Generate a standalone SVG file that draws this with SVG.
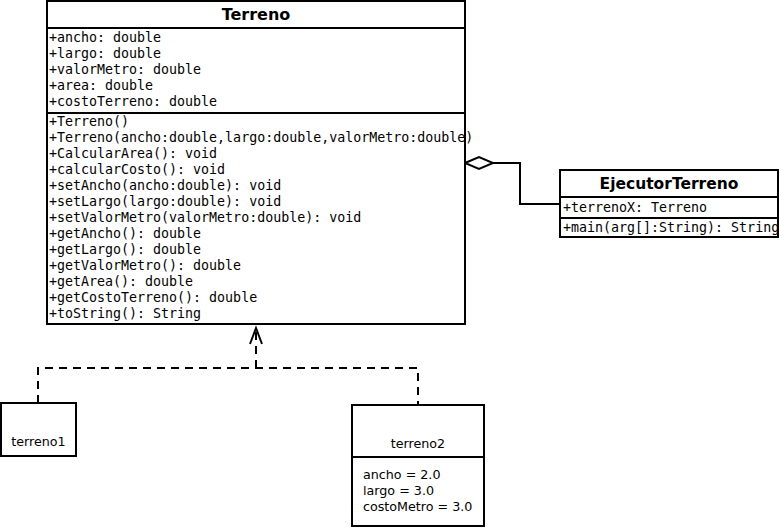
<svg xmlns="http://www.w3.org/2000/svg" width="779" height="528" viewBox="0 0 779 528">
<style>
.box{fill:#fff;stroke:#000;stroke-width:2}
.ln{stroke:#000;stroke-width:2;fill:none}
.dash{stroke:#000;stroke-width:2;fill:none;stroke-dasharray:8,6}
.mono{font-family:"DejaVu Sans Mono","Liberation Mono",monospace;font-size:13.3px;fill:#000}
.title{font-family:"DejaVu Sans","Liberation Sans",sans-serif;font-weight:bold;fill:#000;text-anchor:middle}
.obj{font-family:"DejaVu Sans","Liberation Sans",sans-serif;font-size:12.7px;fill:#000}
</style>
<rect width="779" height="528" fill="#fff"/>
<g id="connectors">
  <polyline class="dash" points="38,403 38,368 418,368 418,405"/>
  <line class="dash" x1="256" y1="368" x2="256" y2="329"/>
  <polyline class="ln" points="250,344 256,328 262,344"/>
  <polyline class="ln" points="493,163 520,163 520,204 560,204"/>
  <polygon points="465,163 479,157 493,163 479,169" fill="#fff" stroke="#000" stroke-width="2"/>
</g>
<g id="Terreno">
  <rect class="box" x="47" y="1" width="418" height="323"/>
  <line class="ln" x1="47" y1="28" x2="465" y2="28"/>
  <line class="ln" x1="47" y1="113" x2="465" y2="113"/>
  <text class="title" x="256" y="20" font-size="16">Terreno</text>
  <g class="mono">
    <text x="49" y="42">+ancho: double</text>
    <text x="49" y="58">+largo: double</text>
    <text x="49" y="74">+valorMetro: double</text>
    <text x="49" y="90">+area: double</text>
    <text x="49" y="106">+costoTerreno: double</text>
    <text x="49" y="126">+Terreno()</text>
    <text x="49" y="142">+Terreno(ancho:double,largo:double,valorMetro:double)</text>
    <text x="49" y="158">+CalcularArea(): void</text>
    <text x="49" y="174">+calcularCosto(): void</text>
    <text x="49" y="190">+setAncho(ancho:double): void</text>
    <text x="49" y="206">+setLargo(largo:double): void</text>
    <text x="49" y="222">+setValorMetro(valorMetro:double): void</text>
    <text x="49" y="238">+getAncho(): double</text>
    <text x="49" y="254">+getLargo(): double</text>
    <text x="49" y="270">+getValorMetro(): double</text>
    <text x="49" y="286">+getArea(): double</text>
    <text x="49" y="302">+getCostoTerreno(): double</text>
    <text x="49" y="318">+toString(): String</text>
  </g>
</g>
<g id="EjecutorTerreno">
  <rect class="box" x="560" y="170" width="218" height="67"/>
  <line class="ln" x1="560" y1="197" x2="778" y2="197"/>
  <line class="ln" x1="560" y1="218" x2="778" y2="218"/>
  <text class="title" x="669" y="189" font-size="15.5">EjecutorTerreno</text>
  <text class="mono" x="563" y="212">+terrenoX: Terreno</text>
  <text class="mono" x="563" y="232">+main(arg[]:String): String</text>
</g>
<g id="terreno1">
  <rect class="box" x="1" y="403" width="75" height="53"/>
  <text class="obj" x="38.5" y="446" text-anchor="middle">terreno1</text>
</g>
<g id="terreno2">
  <rect class="box" x="352" y="405" width="132" height="121"/>
  <line class="ln" x1="352" y1="457" x2="484" y2="457"/>
  <text class="obj" x="418" y="448" text-anchor="middle">terreno2</text>
  <text class="obj" x="363" y="479">ancho = 2.0</text>
  <text class="obj" x="363" y="495">largo = 3.0</text>
  <text class="obj" x="363" y="511">costoMetro = 3.0</text>
</g>
</svg>
